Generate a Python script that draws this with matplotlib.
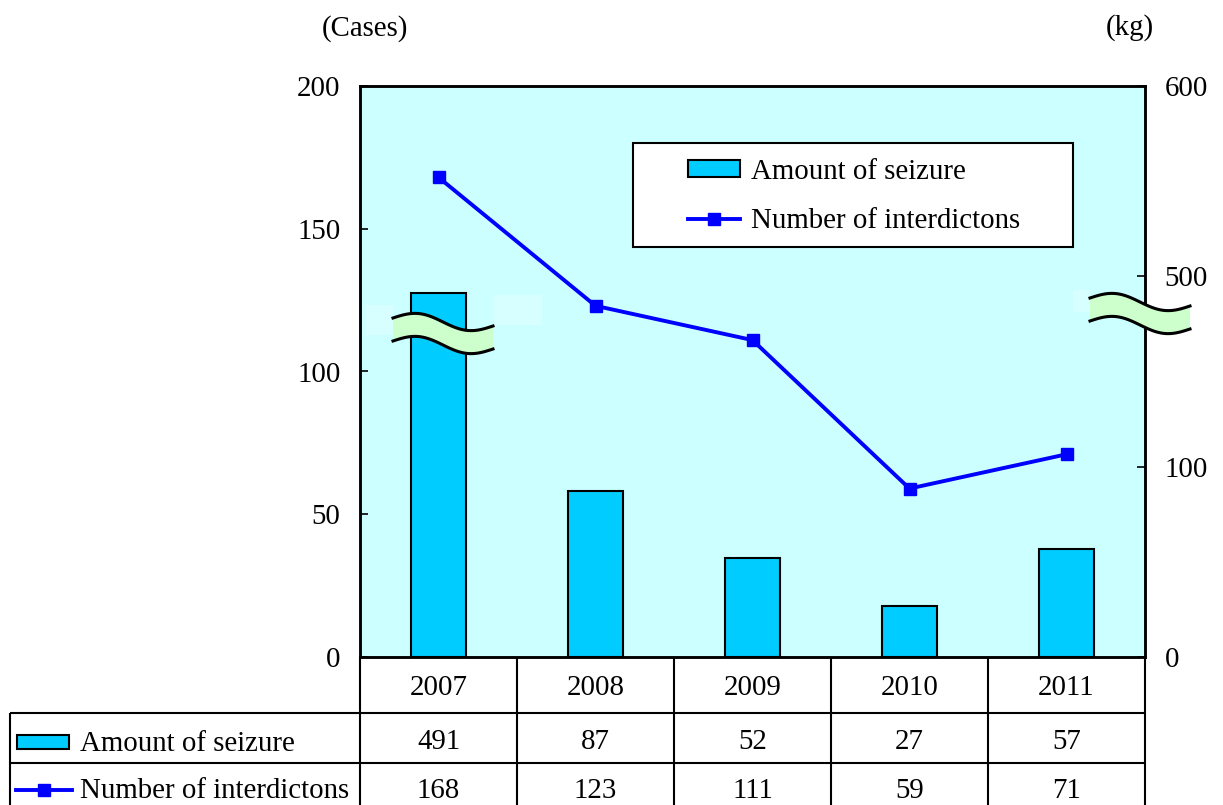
import numpy as np
import matplotlib
matplotlib.use("Agg")
import matplotlib.pyplot as plt
from matplotlib.patches import Rectangle, Polygon
from matplotlib.lines import Line2D

plt.rcParams['font.family'] = ['Liberation Serif', 'DejaVu Serif']
FS = 20.8

# ---- data ----
years = ['2007', '2008', '2009', '2010', '2011']
seizure_kg = [491, 87, 52, 27, 57]          # right axis (kg), broken scale
interdictions = [168, 123, 111, 59, 71]     # left axis (cases)
left_ticks = [0, 50, 100, 150, 200]
right_tick_labels = ['0', '100', '500', '600']
series_names = ['Amount of seizure', 'Number of interdictons']

BAR_COLOR = '#00ccff'
LINE_COLOR = '#0000ff'
BG = '#ccffff'
LW_LINE = 2.8
MS = 8.5

# broken right axis: 0-200 displayed linearly, values above the break shifted down by 300
BREAK_LOW, BREAK_SHIFT = 200, 300
def brk(v):
    return v if v <= BREAK_LOW else v - BREAK_SHIFT

W, H = 1223, 805
fig = plt.figure(figsize=(W / 100, H / 100), dpi=100)

def fx(px):
    return px / W
def fy(py):
    return 1 - py / H

L, R, T, B = 360, 1145, 86, 657
ax = fig.add_axes([fx(L), fy(B), fx(R) - fx(L), fy(T) - fy(B)])
ax2 = ax.twinx()
ax.set_zorder(ax2.get_zorder() + 1)
ax.patch.set_visible(False)
ax2.patch.set_visible(True)
ax2.set_facecolor(BG)

x = np.arange(len(years))
ax2.bar(x, [brk(v) for v in seizure_kg], width=0.35, color=BAR_COLOR,
        edgecolor='black', linewidth=1.5, zorder=2)
ax.plot(x, interdictions, color=LINE_COLOR, lw=LW_LINE, marker='s', markersize=MS,
        zorder=3)

ax.set_xlim(-0.5, len(years) - 0.5)
ax.set_ylim(0, 200)
ax2.set_ylim(0, 300)
ax.set_yticks(left_ticks)
ax.set_yticklabels([str(t) for t in left_ticks])
ax2.set_yticks([0, 100, 200, 300])
ax2.set_yticklabels(right_tick_labels)
ax.set_xticks([])
for a in (ax, ax2):
    a.tick_params(direction='in', length=6, width=1.2, labelsize=FS, pad=14)
    for s in a.spines.values():
        s.set_linewidth(1.8)

# legend box
ax.add_patch(Rectangle(((633 - L) / (R - L), (B - 247) / (B - T)),
                       (1073 - 633) / (R - L), (247 - 143) / (B - T),
                       transform=ax.transAxes, facecolor='white',
                       edgecolor='black', linewidth=1.5, zorder=4))
h_bar = Rectangle((0, 0), 1, 1, facecolor=BAR_COLOR, edgecolor='black', linewidth=1.5)
h_line = Line2D([], [], color=LINE_COLOR, lw=LW_LINE, marker='s', markersize=MS)
leg = ax.legend([h_bar, h_line], series_names, loc='center left',
                bbox_to_anchor=((688 - L) / (R - L), (B - 196.5) / (B - T)),
                frameon=False, fontsize=FS, handlelength=1.8, handleheight=0.5,
                handletextpad=0.38, labelspacing=0.8, borderpad=0, borderaxespad=0)
leg.set_zorder(5)

# axis unit labels
fig.text(fx(365), fy(29), '(Cases)', ha='center', va='center', fontsize=FS)
fig.text(fx(1130), fy(28), '(kg)', ha='center', va='center', fontsize=FS)

# ---- break symbols (decoration) ----
def faint(x0, y0, x1, y1):
    fig.add_artist(Rectangle((fx(x0), fy(y1)), fx(x1) - fx(x0), fy(y0) - fy(y1),
                             transform=fig.transFigure, facecolor='#d8ffff',
                             edgecolor='none', zorder=4))

def wave(x0, x1, y0, thick=23, tilt=8, amp=6.5):
    t = np.linspace(0, 1, 100)
    xs = x0 + (x1 - x0) * t
    top = y0 + tilt * t - amp * np.sin(2 * np.pi * t)
    bot = top + thick
    pts = np.column_stack([np.concatenate([xs, xs[::-1]]),
                           np.concatenate([top, bot[::-1]])])
    ptsf = np.column_stack([fx(pts[:, 0]), fy(pts[:, 1])])
    fig.add_artist(Polygon(ptsf, closed=True, transform=fig.transFigure,
                           facecolor='#ccffcc', edgecolor='none', zorder=6))
    for yy in (top, bot):
        fig.add_artist(Line2D(fx(xs), fy(yy), transform=fig.transFigure,
                              color='black', lw=2.2, zorder=7))

faint(365, 305, 393, 335)
faint(493, 295, 542, 325)
faint(1073, 290, 1090, 312)
wave(393, 493, 318)
wave(1090, 1190, 298)

# ---- data table ----
tax = fig.add_axes([0, 0, 1, fy(B)])
tax.set_xlim(0, W)
tax.set_ylim(H, B)
tax.axis('off')
col_w = (R - L) / len(years)
row_y = [B, 713, 763]
lw = 1.5
kw = dict(color='black', lw=lw, solid_capstyle='butt')
tax.plot([L, L], [B, H], **kw)
tax.plot([R, R], [B, H], **kw)
for i in range(1, len(years)):
    xx = L + col_w * i
    tax.plot([xx, xx], [B, H], **kw)
tax.plot([10, 10], [row_y[1], H], **kw)
tax.plot([10, R], [row_y[1], row_y[1]], **kw)
tax.plot([10, R], [row_y[2], row_y[2]], **kw)

for i, yr in enumerate(years):
    cx = L + col_w * (i + 0.5)
    tax.text(cx, 688, yr, ha='center', va='center', fontsize=FS)
    tax.text(cx, 742, str(seizure_kg[i]), ha='center', va='center', fontsize=FS)
    tax.text(cx, 791, str(interdictions[i]), ha='center', va='center', fontsize=FS)

# row keys
tax.add_patch(Rectangle((17, 735), 52, 14, facecolor=BAR_COLOR, edgecolor='black', linewidth=1.5))
tax.text(80, 744, series_names[0], ha='left', va='center', fontsize=FS)
tax.plot([16, 72], [790, 790], color=LINE_COLOR, lw=LW_LINE)
tax.plot([44], [790], color=LINE_COLOR, marker='s', markersize=MS)
tax.text(80, 791, series_names[1], ha='left', va='center', fontsize=FS)

fig.savefig('out.png', dpi=100)
